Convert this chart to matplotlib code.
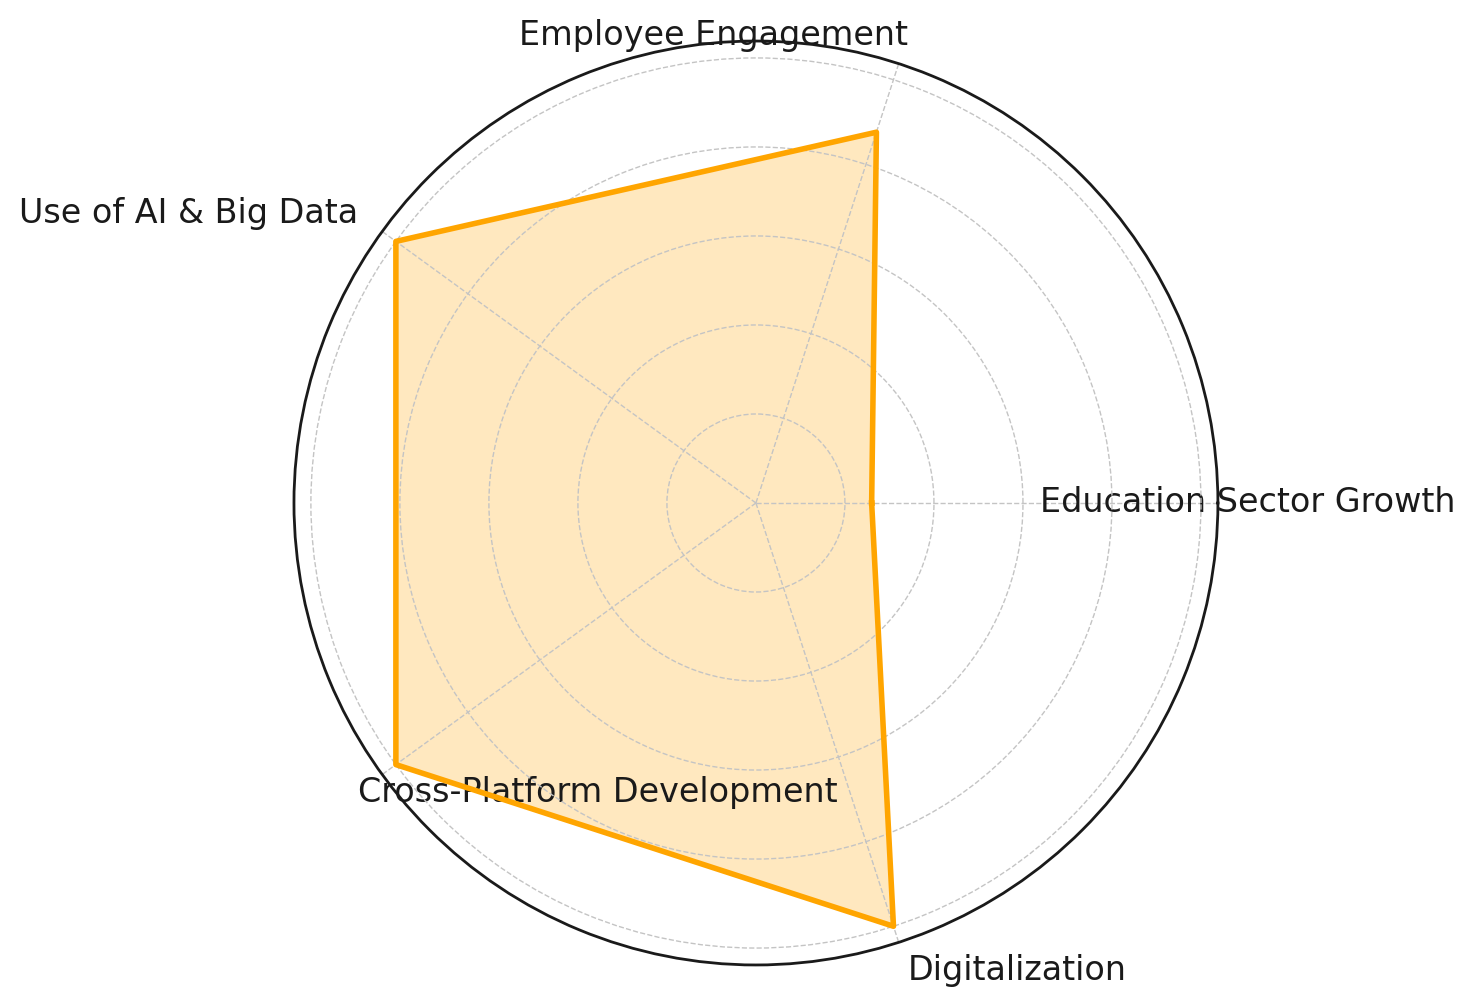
import numpy as np
import matplotlib
matplotlib.use("Agg")
import matplotlib.pyplot as plt

categories = ["Education Sector Growth", "Employee Engagement", "Use of AI & Big Data",
              "Cross-Platform Development", "Digitalization"]
values = [1.3, 4.38, 5.0, 5.0, 5.0]

angles = np.linspace(0, 2 * np.pi, len(categories), endpoint=False)
closed_angles = np.concatenate([angles, angles[:1]])
closed_values = values + values[:1]

fig = plt.figure(figsize=(7.375, 5.035), dpi=200)
ax = fig.add_axes([0.1993, 0.0417, 0.6264, 0.9176], projection="polar")

ax.plot(closed_angles, closed_values, color="#FFA500", linewidth=2)
ax.fill(closed_angles, closed_values, color="#FFA500", alpha=0.25)

ax.set_ylim(0, 5.19)
ax.set_yticks([1, 2, 3, 4, 5])
ax.set_yticklabels([])
ax.set_xticks(angles)
ax.set_xticklabels(categories, fontsize=12, color="#1a1a1a")
ax.tick_params(axis="x", pad=0.2)
ax.grid(True, color="#c4c4c4", linestyle="--", linewidth=0.5)
ax.spines["polar"].set_color("#1a1a1a")
ax.spines["polar"].set_linewidth(1.0)

for label, angle in zip(ax.get_xticklabels(), angles):
    if angle == 0:
        label.set_horizontalalignment("center")
    elif angle < np.pi:
        label.set_horizontalalignment("right")
    else:
        label.set_horizontalalignment("left")

fig.savefig("out.png", dpi=200)
